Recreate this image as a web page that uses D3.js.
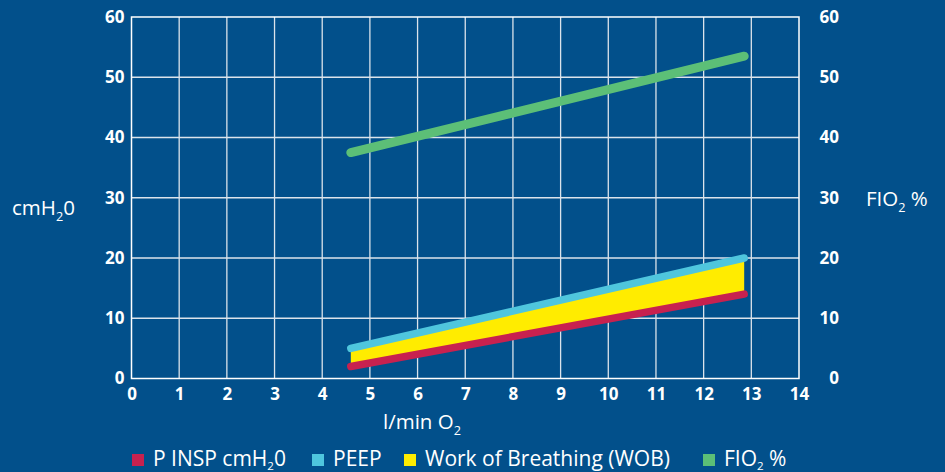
<!DOCTYPE html>
<html><head><meta charset="utf-8">
<script src="https://cdn.jsdelivr.net/npm/d3@7"></script>
<style>
html,body{margin:0;padding:0;background:#02508b;}
svg{display:block;font-family:"Open Sans",sans-serif;}
</style></head>
<body><svg id="c" width="945" height="472"></svg>
<script>
const xTicks = [0,1,2,3,4,5,6,7,8,9,10,11,12,13,14];
const yTicks = [0,10,20,30,40,50,60];
const flow = [4.6, 12.85];
const pInsp = [2, 14];
const peep = [5, 20];
const fio2 = [37.5, 53.5];
const legendItems = [
  {key:"pinsp", color:"#c8214f"},
  {key:"peep", color:"#4fc6dd"},
  {key:"wob", color:"#ffec00"},
  {key:"fio2", color:"#5cbf77"}
];
const colors = {pinsp:"#c8214f", peep:"#4fc6dd", wob:"#ffec00", fio2:"#5cbf77"};

const svg = d3.select("#c");
const x = d3.scaleLinear().domain([0,14]).range([131.5,799]);
const y = d3.scaleLinear().domain([0,60]).range([378.5,17]);

// grid
const g = svg.append("g");
g.selectAll(".vg").data(xTicks.slice(1,-1)).enter().append("line")
  .attr("x1",d=>x(d)).attr("x2",d=>x(d)).attr("y1",y(0)).attr("y2",y(60))
  .attr("stroke","#dbe3eb").attr("stroke-width",1.3);
g.selectAll(".hg").data(yTicks.slice(1,-1)).enter().append("line")
  .attr("x1",x(0)).attr("x2",x(14)).attr("y1",d=>y(d)).attr("y2",d=>y(d))
  .attr("stroke","#dbe3eb").attr("stroke-width",1.3);
g.append("rect").attr("x",x(0)).attr("y",y(60)).attr("width",x(14)-x(0)).attr("height",y(0)-y(60))
  .attr("fill","none").attr("stroke","#ffffff").attr("stroke-width",1.5);

// axes tick labels
const xAxis = d3.axisBottom(x).tickValues(xTicks).tickSize(0).tickPadding(9);
svg.append("g").attr("transform",`translate(0,${y(0)})`).call(xAxis)
  .call(s=>s.select(".domain").remove())
  .selectAll("text").attr("fill","#fff").attr("font-size",17).attr("font-weight",700)
  .attr("font-family","Open Sans");
const yAxisL = d3.axisLeft(y).tickValues(yTicks).tickSize(0).tickPadding(7);
svg.append("g").attr("transform",`translate(${x(0)},0)`).call(yAxisL)
  .call(s=>s.select(".domain").remove())
  .selectAll("text").attr("fill","#fff").attr("font-size",17).attr("font-weight",700)
  .attr("font-family","Open Sans");
const yAxisR = d3.axisRight(y).tickValues(yTicks).tickSize(0).tickPadding(0);
svg.append("g").attr("transform",`translate(839,0)`).call(yAxisR)
  .call(s=>s.select(".domain").remove())
  .selectAll("text").attr("fill","#fff").attr("font-size",17).attr("font-weight",700)
  .attr("font-family","Open Sans").attr("text-anchor","end");

// WOB area
const pts = flow.map((f,i)=>({f, lo:pInsp[i], hi:peep[i]}));
const area = d3.area().x(d=>x(d.f)).y0(d=>y(d.lo)).y1(d=>y(d.hi));
svg.append("path").datum(pts).attr("d",area).attr("fill",colors.wob);

const line = d3.line().x(d=>x(d[0])).y(d=>y(d[1]));
function drawLine(vals,color,w){
  svg.append("path").datum(flow.map((f,i)=>[f,vals[i]])).attr("d",line)
    .attr("fill","none").attr("stroke",color).attr("stroke-width",w).attr("stroke-linecap","round");
}
drawLine(pInsp,colors.pinsp,7.5);
drawLine(peep,colors.peep,7.5);
drawLine(fio2,colors.fio2,9);

// axis titles
function sub(parts, xpos, ypos, size, subScale, subDy){
  const dy = size*(subDy||0.28);
  const tx = svg.append("text").attr("x",xpos).attr("y",ypos).attr("fill","#fff")
    .attr("font-size",size);
  parts.forEach(p=>{
    const ts = tx.append("tspan").text(p.t);
    if(p.sub){ts.attr("font-size",size*(subScale||0.62)).attr("dy",dy);}
    else if(p.after){ts.attr("dy",-dy);}
  });
  return tx;
}
sub([{t:"cmH"},{t:"2",sub:true},{t:"0",after:true}],12,215,20.5);
sub([{t:"FIO"},{t:"2",sub:true},{t:" %",after:true}],866,206,20.5);
sub([{t:"l/min O"},{t:"2",sub:true}],383,429,20.5);

// legend
const lg = svg.append("g");
const legY = 459;
const legendDefs = [
  {x:132, parts:[{t:"P INSP cmH"},{t:"2",sub:true},{t:"0",after:true}]},
  {x:312, parts:[{t:"PEEP"}]},
  {x:404, parts:[{t:"Work of Breathing (WOB)"}]},
  {x:703, parts:[{t:"FIO"},{t:"2",sub:true},{t:" %",after:true}]}
];
legendItems.forEach((it,i)=>{
  const d = legendDefs[i];
  lg.append("rect").attr("x",d.x).attr("y",legY-5).attr("width",12).attr("height",12).attr("fill",it.color);
  sub(d.parts,d.x+21,legY+7,21,0.55,0.18);
});
</script></body></html>
